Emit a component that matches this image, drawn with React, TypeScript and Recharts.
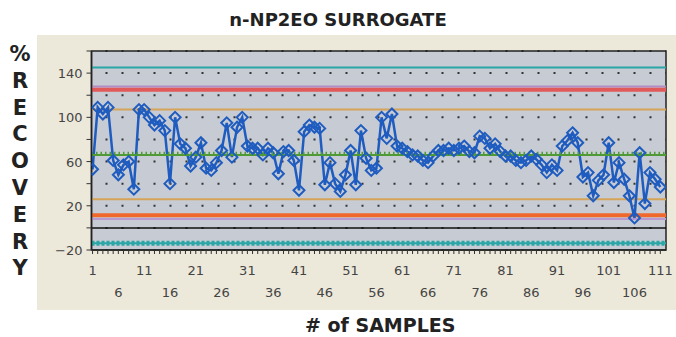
import React from 'react';
import { LineChart, Line, XAxis, YAxis, CartesianGrid, ReferenceLine, ReferenceArea } from 'recharts';

const recovery: number[] = [
  53, 109, 103, 109, 61, 48, 57, 60, 35, 107, 107, 100, 93, 97, 88, 40, 100, 76, 72, 56, 64, 77,
  54, 52, 59, 70, 95, 64, 91, 100, 74, 72, 72, 66, 72, 68, 49, 69, 70, 61, 34, 87, 93, 91,
  90, 39, 59, 40, 33, 48, 70, 39, 88, 63, 52, 54, 100, 81, 103, 74, 72, 69, 66, 65, 61, 59,
  65, 70, 70, 72, 70, 72, 74, 69, 68, 83, 81, 72, 76, 69, 65, 65, 61, 59, 61, 65, 62, 57,
  50, 57, 52, 74, 79, 86, 77, 46, 50, 29, 43, 48, 77, 41, 59, 44, 29, 9, 68, 22, 50, 44, 37,
];

const xLabelsRow1 = [1, 11, 21, 31, 41, 51, 61, 71, 81, 91, 101, 111];
const xLabelsRow2 = [6, 16, 26, 36, 46, 56, 66, 76, 86, 96, 106];
const yTicks = [-20, 0, 20, 40, 60, 80, 100, 120, 140, 160];
const yTickLabels = [-20, 20, 60, 100, 140];

const upperWarn = 145;
const upperPurple = 128;
const upperControl = 125;
const upperTan = 107;
const centerLine = 66;
const lowerTan = 26;
const lowerControl = 11.5;
const lowerPurple = 8;
const zeroLine = 0;
const lowerWarn = -14;

const title = 'n-NP2EO SURROGATE';
const yTitle = '%RECOVERY';
const xTitle = '# of SAMPLES';

const data = recovery.map((v, i) => ({ sample: i + 1, value: v }));
const allSamples = data.map((d) => d.sample);

const BLUE = '#1f5cc0';

const Diamond = (props: any) => {
  const { cx, cy } = props;
  if (cx == null || cy == null) return null;
  const r = 5.5;
  return (
    <polygon
      points={`${cx},${cy - r} ${cx + r},${cy} ${cx},${cy + r} ${cx - r},${cy}`}
      fill="none"
      stroke={BLUE}
      strokeWidth={2}
    />
  );
};

const XTick = (props: any) => {
  const { x, y, payload } = props;
  const v = payload.value;
  const style = { fontFamily: 'DejaVu Sans', fontSize: 13, fill: '#444' };
  if (xLabelsRow1.includes(v)) {
    return (
      <text x={x} y={y + 19} textAnchor="middle" {...style}>
        {v}
      </text>
    );
  }
  if (xLabelsRow2.includes(v)) {
    return (
      <text x={x} y={y + 41} textAnchor="middle" {...style}>
        {v}
      </text>
    );
  }
  return null;
};

const YTick = (props: any) => {
  const { x, y, payload } = props;
  const v = payload.value;
  if (!yTickLabels.includes(v)) return null;
  return (
    <text
      x={x - 2}
      y={y + 5}
      textAnchor="end"
      fontFamily="DejaVu Sans"
      fontSize={13}
      fill="#444"
    >
      {v < 0 ? `\u2212${Math.abs(v)}` : v}
    </text>
  );
};

export default function App() {
  return (
    <div style={{ position: 'absolute', left: 0, top: 0, width: 676, height: 337, background: '#fff', overflow: 'hidden' }}>
      <div style={{ position: 'absolute', left: 37, top: 35, width: 639, height: 275, background: '#ece8da' }} />
      <div
        style={{
          position: 'absolute',
          left: 0,
          top: 8,
          width: 676,
          textAlign: 'center',
          fontFamily: 'DejaVu Sans',
          fontWeight: 'bold',
          fontSize: 18,
          lineHeight: '24px',
          color: '#222',
        }}
      >
        {title}
      </div>
      <div
        style={{
          position: 'absolute',
          left: 0,
          top: 41,
          width: 40,
          textAlign: 'center',
          fontFamily: 'DejaVu Sans',
          fontWeight: 'bold',
          fontSize: 21,
          lineHeight: '26.8px',
          color: '#222',
        }}
      >
        {yTitle.split('').map((c, i) => (
          <div key={i}>{c}</div>
        ))}
      </div>
      <div
        style={{
          position: 'absolute',
          left: 305,
          top: 313,
          width: 146,
          textAlign: 'center',
          fontFamily: 'DejaVu Sans',
          fontWeight: 'bold',
          fontSize: 19,
          lineHeight: '24px',
          color: '#222',
          whiteSpace: 'nowrap',
        }}
      >
        {xTitle}
      </div>
      <div style={{ position: 'absolute', left: 0, top: 0 }}>
        <LineChart
          width={676}
          height={337}
          data={data}
          margin={{ top: 51, right: 10, bottom: 37, left: 51.5 }}
        >
          <CartesianGrid
            horizontal
            vertical={false}
            fill="#c7cbd3"
            fillOpacity={1}
            stroke="#333"
            strokeWidth={2}
            strokeDasharray="0 14 2 0"
          />
          <XAxis
            type="number"
            dataKey="sample"
            domain={[0.8, 112.1]}
            ticks={allSamples}
            interval={0}
            tick={<XTick />}
            tickSize={4}
            tickLine={{ stroke: '#333' }}
            axisLine={{ stroke: '#222', strokeWidth: 1.5 }}
            height={50}
            allowDataOverflow
          />
          <YAxis
            type="number"
            domain={[-20, 160]}
            ticks={yTicks}
            interval={0}
            tick={<YTick />}
            tickSize={5}
            tickLine={{ stroke: '#333' }}
            axisLine={{ stroke: '#222', strokeWidth: 1.5 }}
            width={40}
            allowDataOverflow
          />
          <ReferenceLine y={upperWarn} stroke="#2aa6a6" strokeWidth={2} />
          <ReferenceLine y={upperPurple} stroke="#b48cc4" strokeWidth={2} />
          <ReferenceLine y={upperControl} stroke="#e05a5a" strokeWidth={4} />
          <ReferenceLine y={upperTan} stroke="#d6a458" strokeWidth={2} />
          <ReferenceLine y={lowerTan} stroke="#d6a458" strokeWidth={2} />
          <ReferenceLine y={lowerControl} stroke="#f0682c" strokeWidth={4} />
          <ReferenceLine y={lowerPurple} stroke="#b89ad0" strokeWidth={2} />
          <ReferenceLine y={zeroLine} stroke="#111" strokeWidth={1.5} />
          <ReferenceLine y={lowerWarn} stroke="#2aa6a6" strokeWidth={2} />
          <ReferenceLine y={lowerWarn} stroke="#2aa6a6" strokeWidth={5} strokeDasharray="3 2" />
          <Line
            type="linear"
            dataKey="value"
            stroke={BLUE}
            strokeWidth={2.5}
            dot={<Diamond />}
            activeDot={false}
            isAnimationActive={false}
          />
          <ReferenceLine y={centerLine} stroke="#4f9a34" strokeWidth={2} />
          <ReferenceLine y={centerLine + 1} stroke="#4f9a34" strokeWidth={4} strokeDasharray="1.5 3" />
          <ReferenceArea
            x1={0.8}
            x2={112.1}
            y1={-20}
            y2={160}
            fill="none"
            fillOpacity={0}
            stroke="#222"
            strokeWidth={1.5}
            ifOverflow="extendDomain"
          />
        </LineChart>
      </div>
    </div>
  );
}
